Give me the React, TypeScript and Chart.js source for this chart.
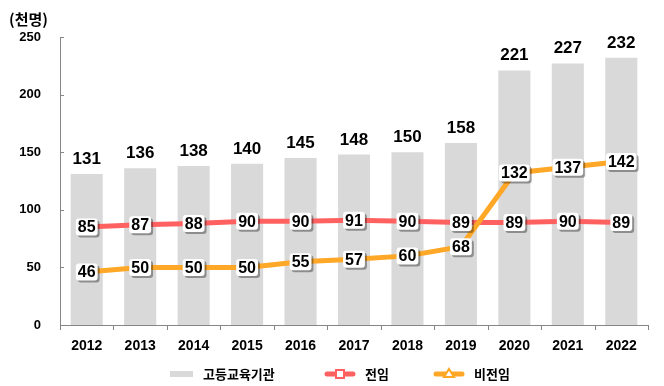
import React, { useEffect, useRef } from 'react';
import { Chart, registerables } from 'chart.js';
Chart.register(...registerables);

const categories = ['2012', '2013', '2014', '2015', '2016', '2017', '2018', '2019', '2020', '2021', '2022'];
const totalValues = [131, 136, 138, 140, 145, 148, 150, 158, 221, 227, 232];
const fullTimeValues = [85, 87, 88, 90, 90, 91, 90, 89, 89, 90, 89];
const partTimeValues = [46, 50, 50, 50, 55, 57, 60, 68, 132, 137, 142];
const yTicks = [0, 50, 100, 150, 200, 250];
const seriesNames = ['고등교육기관', '전임', '비전임'];
const unitLabel = '(천명)';

const FONT = "'Liberation Sans', 'Noto Sans CJK KR', sans-serif";
const KFONT = "'Noto Sans CJK KR', 'Liberation Sans', sans-serif";
const BAR_COLOR = '#D9D9D9';
const RED = '#FF6161';
const ORANGE = '#FFA726';
const AXIS = '#868686';

function roundRect(ctx: CanvasRenderingContext2D, x: number, y: number, w: number, h: number, r: number) {
  ctx.beginPath();
  ctx.moveTo(x + r, y);
  ctx.lineTo(x + w - r, y);
  ctx.quadraticCurveTo(x + w, y, x + w, y + r);
  ctx.lineTo(x + w, y + h - r);
  ctx.quadraticCurveTo(x + w, y + h, x + w - r, y + h);
  ctx.lineTo(x + r, y + h);
  ctx.quadraticCurveTo(x, y + h, x, y + h - r);
  ctx.lineTo(x, y + r);
  ctx.quadraticCurveTo(x, y, x + r, y);
  ctx.closePath();
}

export default function App() {
  const ref = useRef<HTMLCanvasElement>(null);
  useEffect(() => {
    const canvas = ref.current!;
    const plugin = {
      id: 'custom',
      afterDatasetsDraw(chart: any) {
        const ctx: CanvasRenderingContext2D = chart.ctx;
        const area = chart.chartArea;
        const xs = chart.scales.x;
        const ys = chart.scales.y;
        ctx.save();
        // axes
        ctx.strokeStyle = AXIS;
        ctx.lineWidth = 1;
        ctx.beginPath();
        ctx.moveTo(Math.round(area.left) + 0.5, area.top);
        ctx.lineTo(Math.round(area.left) + 0.5, area.bottom);
        ctx.moveTo(area.left, Math.round(area.bottom) + 0.5);
        ctx.lineTo(area.right, Math.round(area.bottom) + 0.5);
        yTicks.forEach((v) => {
          const y = Math.round(ys.getPixelForValue(v)) + 0.5;
          ctx.moveTo(area.left, y);
          ctx.lineTo(area.left + 4, y);
        });
        const step = xs.getPixelForValue(1) - xs.getPixelForValue(0);
        for (let i = 0; i <= categories.length; i++) {
          const x = Math.round(xs.getPixelForValue(0) - step / 2 + i * step) + 0.5;
          ctx.moveTo(x, area.bottom);
          ctx.lineTo(x, area.bottom + 5);
        }
        ctx.stroke();

        // y tick labels
        ctx.fillStyle = '#000';
        ctx.font = `bold 13px ${FONT}`;
        ctx.textAlign = 'right';
        ctx.textBaseline = 'middle';
        yTicks.forEach((v) => {
          ctx.fillText(String(v), area.left - 19, ys.getPixelForValue(v));
        });
        // x labels
        ctx.font = `bold 14px ${FONT}`;
        ctx.textAlign = 'center';
        categories.forEach((c, i) => {
          ctx.fillText(c, xs.getPixelForValue(i), area.bottom + 21);
        });
        // unit
        ctx.font = `bold 15px ${KFONT}`;
        ctx.textAlign = 'left';
        ctx.fillText(unitLabel, 9, 19);

        // bar labels
        ctx.font = `bold 17px ${FONT}`;
        ctx.textAlign = 'center';
        ctx.textBaseline = 'alphabetic';
        totalValues.forEach((v, i) => {
          ctx.fillText(String(v), xs.getPixelForValue(i), ys.getPixelForValue(v) - 10);
        });

        // line labels
        const drawLabels = (vals: number[]) => {
          ctx.font = `bold 16px ${FONT}`;
          vals.forEach((v, i) => {
            const x = xs.getPixelForValue(i);
            const y = ys.getPixelForValue(v);
            const t = String(v);
            const w = ctx.measureText(t).width + 4;
            const h = 17;
            ctx.fillStyle = 'rgba(0,0,0,0.35)';
            roundRect(ctx, x - w / 2 + 2, y - h / 2 + 2, w, h, 3);
            ctx.fill();
            ctx.fillStyle = '#fff';
            roundRect(ctx, x - w / 2, y - h / 2, w, h, 3);
            ctx.fill();
            ctx.fillStyle = '#000';
            ctx.textAlign = 'center';
            ctx.textBaseline = 'middle';
            ctx.fillText(t, x, y + 1);
          });
        };
        drawLabels(fullTimeValues);
        drawLabels(partTimeValues);

        // legend
        const ly = 374;
        ctx.font = `bold 13px ${KFONT}`;
        ctx.textAlign = 'left';
        ctx.textBaseline = 'middle';
        ctx.fillStyle = BAR_COLOR;
        ctx.fillRect(170, ly - 3, 23, 6);
        ctx.fillStyle = '#000';
        ctx.fillText(seriesNames[0], 203, ly);

        ctx.strokeStyle = RED;
        ctx.lineWidth = 5;
        ctx.lineCap = 'round';
        ctx.beginPath();
        ctx.moveTo(327, ly);
        ctx.lineTo(353, ly);
        ctx.stroke();
        ctx.lineWidth = 2;
        ctx.fillStyle = '#fff';
        ctx.fillRect(336, ly - 4, 8, 8);
        ctx.strokeRect(336, ly - 4, 8, 8);
        ctx.fillStyle = '#000';
        ctx.fillText(seriesNames[1], 365, ly);

        ctx.strokeStyle = ORANGE;
        ctx.lineWidth = 5;
        ctx.beginPath();
        ctx.moveTo(436, ly);
        ctx.lineTo(462, ly);
        ctx.stroke();
        ctx.lineWidth = 2;
        ctx.fillStyle = '#fff';
        ctx.beginPath();
        ctx.moveTo(449, ly - 5);
        ctx.lineTo(454, ly + 3);
        ctx.lineTo(444, ly + 3);
        ctx.closePath();
        ctx.fill();
        ctx.stroke();
        ctx.fillStyle = '#000';
        ctx.fillText(seriesNames[2], 474, ly);
        ctx.restore();
      },
    };
    const chart = new Chart(canvas, {
      type: 'bar',
      data: {
        labels: categories,
        datasets: [
          { type: 'bar', label: seriesNames[0], data: totalValues, backgroundColor: BAR_COLOR, categoryPercentage: 1, barPercentage: 0.6, order: 3 } as any,
          { type: 'line', label: seriesNames[1], data: fullTimeValues, borderColor: RED, borderWidth: 5, pointRadius: 0, order: 2 } as any,
          { type: 'line', label: seriesNames[2], data: partTimeValues, borderColor: ORANGE, borderWidth: 5, pointRadius: 0, order: 1 } as any,
        ],
      },
      options: {
        animation: false,
        responsive: false,
        maintainAspectRatio: false,
        layout: { padding: { left: 60, top: 37, right: 16, bottom: 61 } },
        scales: {
          x: { display: false, offset: true },
          y: { display: false, min: 0, max: 250 },
        },
        plugins: { legend: { display: false }, tooltip: { enabled: false } },
      },
      plugins: [plugin],
    });
    return () => chart.destroy();
  }, []);
  return (
    <div style={{ position: 'fixed', left: 0, top: 0, width: 664, height: 386, background: '#fff' }}>
      <canvas ref={ref} width={664} height={386} style={{ display: 'block', width: 664, height: 386 }} />
    </div>
  );
}
